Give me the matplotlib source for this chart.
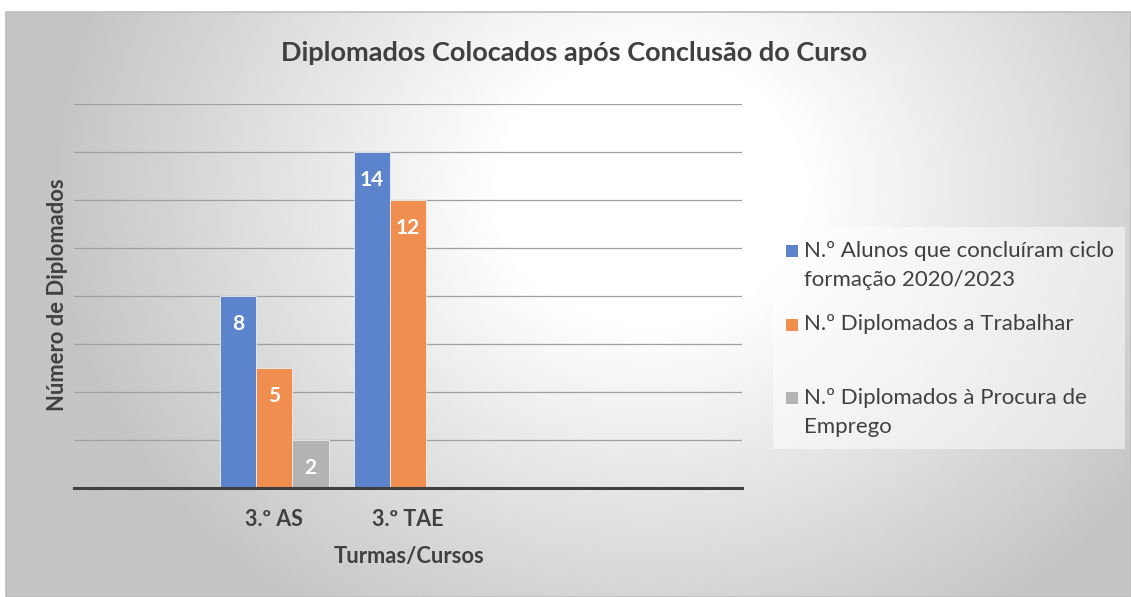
import numpy as np
import matplotlib.pyplot as plt
from matplotlib.patches import Rectangle

# chart data
categories = ['', '3.º AS', '3.º TAE', '', '']
alunos = [np.nan, 8, 14, np.nan, np.nan]
trabalhar = [np.nan, 5, 12, np.nan, np.nan]
procura = [np.nan, 2, 0, np.nan, np.nan]

series_names = ['N.º Alunos que concluíram ciclo\nformação 2020/2023',
                'N.º Diplomados a Trabalhar',
                'N.º Diplomados à Procura de\nEmprego']
colors = ['#5B84CD', '#EF8E4F', '#B3B3B3']

title = 'Diplomados Colocados após Conclusão do Curso'
x_title = 'Turmas/Cursos'
y_title = 'Número de Diplomados'
y_max = 16
y_step = 2

W, H = 1131, 597
plt.rcParams['font.family'] = ['Lato', 'DejaVu Sans']
fig = plt.figure(figsize=(W / 100, H / 100), dpi=100)


def fx(px):
    return px / W


def fy(py):
    return 1 - py / H


# grey radial background of the chart frame
bg = fig.add_axes([fx(6), 0, 1 - fx(6), fy(12)], zorder=0)
gx, gy = np.meshgrid(np.linspace(6, W, 400), np.linspace(12, H, 220))
d = np.sqrt(((gx - 650) / 600) ** 2 + ((gy - 190) / 520) ** 2)
t = np.clip((d - 0.25) / 0.75, 0, 1)
shade = 1 - t * 0.23
bg.imshow(shade, cmap='gray', vmin=0, vmax=1, extent=[6, W, H, 12],
          aspect='auto', interpolation='bilinear')
bg.axis('off')
fig.add_artist(Rectangle((fx(6), 0), 1 - fx(6), fy(12), transform=fig.transFigure,
                         fill=False, edgecolor='#BDBDBD', lw=1.2, zorder=0.5))

ax = fig.add_axes([fx(74), fy(488), fx(742) - fx(74), fy(104) - fy(488)], zorder=1)
ax.patch.set_alpha(0)

x = np.arange(len(categories))
w = 0.27
for i, (vals, c) in enumerate(zip([alunos, trabalhar, procura], colors)):
    xs = x + (i - 1) * w
    ax.bar(xs, vals, w, color=c, edgecolor='#EDEDED', linewidth=0.6, zorder=3)
    for xi, v in zip(xs, vals):
        if v > 0:
            ax.annotate(f'{v:g}', (xi, v), xytext=(0, -20), textcoords='offset points',
                        ha='center', va='center', color='white', fontweight='bold',
                        fontsize=15, zorder=4)

ax.set_xlim(-0.5, len(categories) - 0.5)
ax.set_ylim(0, y_max)
ax.set_yticks(np.arange(0, y_max + 1, y_step))
ax.set_yticklabels([])
ax.tick_params(axis='y', length=0)
ax.grid(axis='y', color='#A0A0A0', lw=0.9)
ax.set_axisbelow(True)
for s in ['left', 'right', 'top']:
    ax.spines[s].set_visible(False)
ax.spines['bottom'].set_color('#404040')
ax.spines['bottom'].set_linewidth(2.2)
ax.spines['bottom'].set_zorder(5)
ax.set_xticks(x, categories, fontweight='bold', fontsize=15.5, color='#404040')
ax.tick_params(axis='x', length=0, pad=15)

fig.text(fx(574), fy(53), title, ha='center', va='center', fontsize=19.5,
         fontweight='bold', color='#404040')
fig.text(fx(409), fy(557), x_title, ha='center', va='center', fontsize=15.8,
         fontweight='bold', color='#404040')
fig.text(fx(58), fy(295), y_title, ha='center', va='center', rotation=90,
         fontsize=15.8, fontweight='bold', color='#404040')

# legend drawn by hand to keep the Excel spacing
fig.add_artist(Rectangle((fx(773), fy(449)), fx(1125) - fx(773), fy(227) - fy(449),
                         transform=fig.transFigure, facecolor='white', alpha=0.5,
                         edgecolor='none', zorder=2))
for k, (name, c) in enumerate(zip(series_names, colors)):
    y0 = 251 + k * 73.5
    fig.add_artist(Rectangle((fx(786), fy(y0 + 6)), fx(12), 12 / H,
                             transform=fig.transFigure, facecolor=c,
                             edgecolor='none', zorder=3))
    for j, line in enumerate(name.split('\n')):
        fig.text(fx(804), fy(y0 + j * 29), line, ha='left', va='center',
                 fontsize=16, color='#404040', zorder=3)

fig.savefig('out.png', dpi=100)
